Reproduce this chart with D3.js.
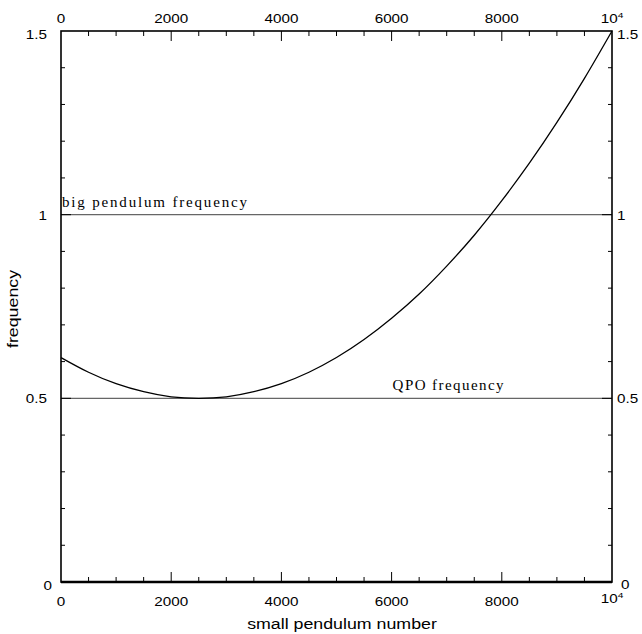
<!DOCTYPE html>
<html>
<head>
<meta charset="utf-8">
<script src="https://cdn.jsdelivr.net/npm/d3@7"></script>
<style>
  body { margin: 0; background: #fff; }
  svg { display: block; }
  .tick-label { font-family: "Liberation Sans", Arial, sans-serif; font-size: 12px; fill: #000; }
  .axis-title { font-family: "Liberation Sans", Arial, sans-serif; font-size: 14px; fill: #000; }
  .line-label { font-family: "Liberation Serif", "DejaVu Serif", serif; font-size: 15px; fill: #000; }
</style>
</head>
<body>
<svg width="642" height="634"></svg>
<script>
// curve, every 500
var pendulumNumber = [0, 500, 1000, 1500, 2000, 2500, 3000, 3500, 4000, 4500, 5000,
    5500, 6000, 6500, 7000, 7500, 8000, 8500, 9000, 9500, 10000];
var frequency = [0.611, 0.571, 0.540, 0.518, 0.504, 0.500, 0.504, 0.518, 0.540, 0.571, 0.611,
    0.660, 0.718, 0.784, 0.860, 0.944, 1.038, 1.140, 1.251, 1.371, 1.500];

// horizontal reference lines
var refValues = [1, 0.5];
var refLabels = ['big pendulum frequency', 'QPO frequency'];
var refLabelAt = [0, 6000];

var xMajor = [0, 2000, 4000, 6000, 8000, 10000];
var xMinor = d3.range(0, 10001, 500);
var yMajor = [0, 0.5, 1, 1.5];
var yMinor = d3.range(0, 1.51, 0.1);

var svg = d3.select('svg');

// plot box (window.top is taken, so use other names)
var pLeft = 61, pRight = 612, pTop = 31, pBottom = 582;
var sx = 1.27; // the original's lettering is wide

var x = d3.scaleLinear().domain([0, 10000]).range([pLeft, pRight]);
var y = d3.scaleLinear().domain([0, 1.5]).range([pBottom, pTop]);

// text stretched sideways around its anchor point
function wideText(g, cls, px, py, anchor, rot) {
    return g.append('text').attr('class', cls)
        .attr('text-anchor', anchor)
        .attr('transform', 'translate(' + px + ',' + py + ')' + (rot ? ' rotate(' + rot + ')' : '') + ' scale(' + sx + ',1)');
}

// tick label formatter (10^4 as superscript)
function xLabel(sel, d) {
    if (d === 10000) {
        sel.text('10');
        sel.append('tspan').attr('dy', -5).style('font-size', '8px').text('4');
    } else {
        sel.text(d);
    }
}

// ref lines
svg.append('g').selectAll('line')
    .data(refValues)
    .enter().append('line')
    .attr('x1', x(0)).attr('x2', x(10000))
    .attr('y1', function (d) { return y(d); })
    .attr('y2', function (d) { return y(d); })
    .attr('stroke', '#666')
    .attr('stroke-width', 1.4);

// typewriter-like spacing of the original
var refWidths = [185, 111];
svg.append('g').selectAll('text')
    .data(refValues)
    .enter().append('text')
    .attr('class', 'line-label')
    .attr('x', function (d, i) { return x(refLabelAt[i]) + 1; })
    .attr('y', function (d) { return y(d) - 8; })
    .attr('textLength', function (d, i) { return refWidths[i]; })
    .attr('lengthAdjust', 'spacing')
    .text(function (d, i) { return refLabels[i]; });

// the curve
var pts = pendulumNumber.map(function (n, i) { return [n, frequency[i]]; });
var line = d3.line()
    .x(function (d) { return x(d[0]); })
    .y(function (d) { return y(d[1]); })
    .curve(d3.curveNatural);

svg.append('path')
    .datum(pts)
    .attr('d', line)
    .attr('fill', 'none')
    .attr('stroke', '#000')
    .attr('stroke-width', 1.3);

// frame ticks, pointing inward
var ticks = svg.append('g').attr('stroke', '#000').attr('stroke-width', 1);
xMinor.forEach(function (d) {
    var len = (d % 2000 === 0) ? 10 : 5;
    if (d === 0 || d === 10000) return;
    ticks.append('line').attr('x1', x(d)).attr('x2', x(d)).attr('y1', pBottom).attr('y2', pBottom - len);
    ticks.append('line').attr('x1', x(d)).attr('x2', x(d)).attr('y1', pTop).attr('y2', pTop + len);
});
yMinor.forEach(function (d) {
    var major = Math.abs(d * 2 - Math.round(d * 2)) < 1e-6;
    var len = major ? 10 : 4;
    if (d < 0.01 || d > 1.49) return;
    ticks.append('line').attr('x1', pLeft).attr('x2', pLeft + len).attr('y1', y(d)).attr('y2', y(d));
    ticks.append('line').attr('x1', pRight).attr('x2', pRight - len).attr('y1', y(d)).attr('y2', y(d));
});

// frame
svg.append('rect')
    .attr('x', pLeft).attr('y', pTop)
    .attr('width', pRight - pLeft).attr('height', pBottom - pTop)
    .attr('fill', 'none')
    .attr('stroke', '#000')
    .attr('stroke-width', 1.6);
svg.append('line')
    .attr('x1', pLeft).attr('x2', pRight).attr('y1', pBottom).attr('y2', pBottom)
    .attr('stroke', '#000').attr('stroke-width', 2.4);

// x tick labels, bottom and top
var lab = svg.append('g');
xMajor.forEach(function (d) {
    xLabel(wideText(lab, 'tick-label', x(d), d === 10000 ? 603 : 606, 'middle'), d);
    xLabel(wideText(lab, 'tick-label', x(d), 23, 'middle'), d);
});

// y tick labels, left and right
yMajor.forEach(function (d) {
    var yy = y(d) + 5;
    if (d === 1.5) yy = y(d) + 8;
    if (d === 0) yy = y(d) + 8;
    wideText(lab, 'tick-label', d === 0 ? 52 : 47, yy, 'end').text(d);
    wideText(lab, 'tick-label', d === 0 ? 621 : 617, d === 0 ? 589 : yy, 'start').text(d);
});

// axis titles
wideText(svg, 'axis-title', 342, 629, 'middle').text('small pendulum number');
wideText(svg, 'axis-title', 18, 309, 'middle', -90).text('frequency');
</script>
</body>
</html>
